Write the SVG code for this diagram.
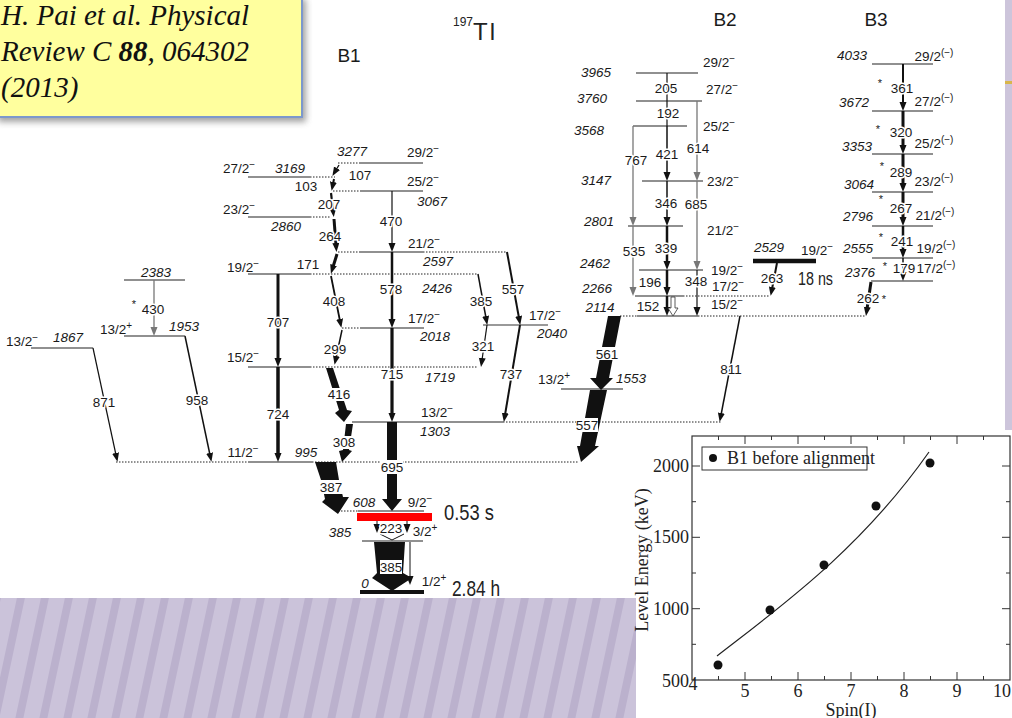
<svg xmlns="http://www.w3.org/2000/svg" width="1012" height="718" viewBox="0 0 1012 718">
<defs>
<style>
.t{font-family:"Liberation Sans",Arial,sans-serif;font-size:13.5px;fill:#1a1a1a;text-anchor:middle}
.e{font-style:italic}
.s{font-size:10px}
.st{font-size:11px}
.g{stroke:#fff;stroke-width:3;paint-order:stroke;stroke-linejoin:round}
.lv{stroke:#222;stroke-width:1.2;fill:none}
.dt{stroke:#222;stroke-width:1;stroke-dasharray:1.5 1.5;fill:none}
.tr{stroke:#111;fill:none;marker-end:url(#ah)}
.gr{stroke:#777;stroke-width:1.3;fill:none;marker-end:url(#ahg)}
.nb{stroke:#111;fill:none}
.band{fill:#111}
.wb{fill:#fff}
.pl{font-family:"Liberation Serif","Times New Roman",serif;font-size:18px;fill:#222}
.cit{font-family:"Liberation Serif","Times New Roman",serif;font-style:italic;font-size:29px;fill:#111}
</style>
<marker id="ah" markerUnits="userSpaceOnUse" markerWidth="10" markerHeight="8" refX="2" refY="3.5" orient="auto"><path d="M0,0 L9,3.5 L0,7 z" fill="#111"/></marker>
<marker id="ahg" markerUnits="userSpaceOnUse" markerWidth="10" markerHeight="8" refX="2" refY="3.5" orient="auto"><path d="M0,0 L9,3.5 L0,7 z" fill="#777"/></marker>
<pattern id="stripes" patternUnits="userSpaceOnUse" width="24" height="24" patternTransform="skewX(-12)">
<rect width="24" height="24" fill="#cbc3da"/><rect x="0" width="8" height="24" fill="#bbb1cd"/>
</pattern>
<filter id="sh" x="-20%" y="-20%" width="140%" height="160%"><feGaussianBlur stdDeviation="3"/></filter>
</defs>
<rect width="1012" height="718" fill="#fff"/>
<rect x="0" y="598" width="636" height="120" fill="url(#stripes)"/>
<rect x="1005" y="0" width="7" height="430" fill="#cdc5db"/>
<rect x="1005" y="81" width="7" height="3" fill="#d8b64c"/>

<g id="citation">
<rect x="-6" y="-6" width="308" height="123" fill="#666" opacity="0.6" filter="url(#sh)" transform="translate(4,5)"/>
<rect x="-6" y="-6" width="308" height="123" fill="#ffff9e" stroke="#7c98cc" stroke-width="2"/>
<text class="cit" x="1" y="25">H. Pai et al. Physical</text>
<text class="cit" x="1" y="61">Review C <tspan font-weight="bold">88</tspan>, 064302</text>
<text class="cit" x="1" y="97">(2013)</text>
</g>

<g id="titles">
<text x="453" y="26" font-family="Liberation Sans,Arial,sans-serif" font-size="12" fill="#222">197</text>
<text x="473" y="40" font-family="Liberation Sans,Arial,sans-serif" font-size="24" letter-spacing="2" fill="#222">Tl</text>
<text class="t" x="349" y="62" style="font-size:19px">B1</text>
<text class="t" x="725" y="26" style="font-size:19px">B2</text>
<text class="t" x="876" y="26" style="font-size:19px">B3</text>
</g>

<!-- B1 levels -->
<g id="lvl-3277"><path class="dt" d="M338,163H360"/><path class="lv" d="M360,163H423"/>
<text class="t e" x="352" y="156">3277</text><text class="t" x="423" y="157">29/2<tspan class="s" dy="-5">−</tspan></text></g>
<g id="lvl-3169"><path class="lv" d="M248,177H310"/><path class="dt" d="M310,177H335"/>
<text class="t" x="239" y="173">27/2<tspan class="s" dy="-5">−</tspan></text><text class="t e" x="290" y="173">3169</text></g>
<g id="lvl-3067"><path class="dt" d="M333,191H360"/><path class="lv" d="M360,191H423"/>
<text class="t" x="423" y="186">25/2<tspan class="s" dy="-5">−</tspan></text><text class="t e" x="432" y="206">3067</text></g>
<g id="lvl-2860"><path class="lv" d="M248,217H310"/><path class="dt" d="M310,217H330"/>
<text class="t" x="239" y="214">23/2<tspan class="s" dy="-5">−</tspan></text><text class="t e" x="286" y="231">2860</text></g>
<g id="lvl-2597"><path class="dt" d="M338,252H360"/><path class="lv" d="M360,252H423"/><path class="dt" d="M423,252H507"/>
<text class="t" x="424" y="248">21/2<tspan class="s" dy="-5">−</tspan></text><text class="t e" x="438" y="266">2597</text></g>
<g id="lvl-2426"><path class="lv" d="M248,274H310"/><path class="dt" d="M310,274H478"/>
<text class="t" x="243" y="272">19/2<tspan class="s" dy="-5">−</tspan></text><text class="t e" x="437" y="293">2426</text></g>
<g id="lvl-2018"><path class="dt" d="M342,328H360"/><path class="lv" d="M360,328H424"/>
<text class="t" x="424" y="323">17/2<tspan class="s" dy="-5">−</tspan></text><text class="t e" x="435" y="341">2018</text></g>
<g id="lvl-2040"><path d="M483,325H548" stroke="#777" stroke-width="1.4"/>
<text class="t" x="545" y="320">17/2<tspan class="s" dy="-5">−</tspan></text><text class="t e" x="552" y="338">2040</text></g>
<g id="lvl-1719"><path class="lv" d="M248,367H310"/><path class="dt" d="M310,367H478"/>
<text class="t" x="243" y="362">15/2<tspan class="s" dy="-5">−</tspan></text><text class="t e" x="440" y="382">1719</text></g>
<g id="lvl-1303"><path class="lv" d="M352,422H503"/><path class="dt" d="M503,422H722"/>
<text class="t" x="437" y="417">13/2<tspan class="s" dy="-5">−</tspan></text><text class="t e" x="435" y="436">1303</text></g>
<g id="lvl-995"><path class="dt" d="M116,462H248"/><path class="lv" d="M248,462H312"/><path class="dt" d="M312,462H578"/>
<text class="t" x="243" y="457">11/2<tspan class="s" dy="-5">−</tspan></text><text class="t e" x="306" y="457">995</text></g>
<g id="lvl-608"><path class="dt" d="M338,511H358"/><path class="lv" d="M358,511H424"/>
<rect x="357" y="513" width="75" height="8" fill="#ff0000"/>
<text class="t e" x="364" y="507">608</text><text class="t" x="420" y="507">9/2<tspan class="s" dy="-5">−</tspan></text>
<text x="444" y="520" font-family="Liberation Sans,Arial,sans-serif" font-size="22" fill="#222" textLength="50" lengthAdjust="spacingAndGlyphs">0.53 s</text></g>
<g id="lvl-385"><path class="lv" d="M362,541H423"/>
<text class="t e" x="340" y="537">385</text><text class="t" x="425" y="536">3/2<tspan class="s" dy="-5">+</tspan></text></g>
<g id="lvl-0"><path d="M360,592H424" stroke="#111" stroke-width="4"/>
<text class="t e" x="365" y="588">0</text><text class="t" x="434" y="586">1/2<tspan class="s" dy="-5">+</tspan></text>
<text x="452" y="596" font-family="Liberation Sans,Arial,sans-serif" font-size="22" fill="#222" textLength="48" lengthAdjust="spacingAndGlyphs">2.84 h</text></g>
<g id="lvl-1867"><path class="lv" d="M31,348H93"/>
<text class="t" x="22" y="346">13/2<tspan class="s" dy="-5">−</tspan></text><text class="t e" x="68" y="342">1867</text></g>
<g id="lvl-1953"><path class="lv" d="M124,336H185"/>
<text class="t" x="116" y="334">13/2<tspan class="s" dy="-5">+</tspan></text><text class="t e" x="184" y="331">1953</text></g>
<g id="lvl-2383"><path class="lv" d="M124,280H185"/><text class="t e" x="156" y="277">2383</text></g>
<g id="lvl-1553"><path class="lv" d="M561,389H623"/>
<text class="t" x="554" y="384">13/2<tspan class="s" dy="-5">+</tspan></text><text class="t e" x="631" y="383">1553</text></g>

<!-- B2 levels -->
<g id="lvl-3965"><path class="lv" d="M636,73H698"/><text class="t e" x="596" y="77">3965</text><text class="t" x="719" y="67">29/2<tspan class="s" dy="-5">−</tspan></text></g>
<g id="lvl-3760"><path class="lv" d="M636,101H702"/><text class="t e" x="592" y="103">3760</text><text class="t" x="722" y="94">27/2<tspan class="s" dy="-5">−</tspan></text></g>
<g id="lvl-3568"><path class="lv" d="M633,126H687"/><text class="t e" x="589" y="135">3568</text><text class="t" x="719" y="131">25/2<tspan class="s" dy="-5">−</tspan></text></g>
<g id="lvl-3147"><path class="lv" d="M642,181H703"/><text class="t e" x="596" y="185">3147</text><text class="t" x="723" y="186">23/2<tspan class="s" dy="-5">−</tspan></text></g>
<g id="lvl-2801"><path class="lv" d="M628,226H683"/><text class="t e" x="599" y="226">2801</text><text class="t" x="723" y="235">21/2<tspan class="s" dy="-5">−</tspan></text></g>
<g id="lvl-2462"><path class="lv" d="M639,270H703"/><text class="t e" x="595" y="268">2462</text><text class="t" x="727" y="275">19/2<tspan class="s" dy="-5">−</tspan></text></g>
<g id="lvl-2266"><path class="lv" d="M635,296H683"/><path class="dt" d="M683,296H770"/><text class="t e" x="597" y="293">2266</text><text class="t" x="728" y="291">17/2<tspan class="s" dy="-5">−</tspan></text></g>
<g id="lvl-2114"><path class="dt" d="M620,316H637"/><path class="lv" d="M637,316H698"/><path class="dt" d="M698,316H866"/><text class="t e" x="600" y="312">2114</text><text class="t" x="727" y="309">15/2<tspan class="s" dy="-5">−</tspan></text></g>
<g id="lvl-2529"><path d="M753,261H816" stroke="#111" stroke-width="4.5"/><text class="t e" x="769" y="252">2529</text><text class="t" x="817" y="255">19/2<tspan class="s" dy="-5">−</tspan></text>
<text x="798" y="285" font-family="Liberation Sans,Arial,sans-serif" font-size="18" fill="#222" textLength="35" lengthAdjust="spacingAndGlyphs">18 ns</text></g>

<!-- B3 levels -->
<g id="lvl-4033"><path class="lv" d="M872,64H933"/><text class="t e" x="852" y="60">4033</text><text class="t" x="934" y="61">29/2<tspan class="s" dy="-5">(−)</tspan></text></g>
<g id="lvl-3672"><path class="lv" d="M872,111H933"/><text class="t e" x="854" y="107">3672</text><text class="t" x="934" y="106">27/2<tspan class="s" dy="-5">(−)</tspan></text></g>
<g id="lvl-3353"><path class="lv" d="M872,154H933"/><text class="t e" x="857" y="151">3353</text><text class="t" x="934" y="148">25/2<tspan class="s" dy="-5">(−)</tspan></text></g>
<g id="lvl-3064"><path class="lv" d="M872,192H933"/><text class="t e" x="859" y="189">3064</text><text class="t" x="934" y="186">23/2<tspan class="s" dy="-5">(−)</tspan></text></g>
<g id="lvl-2796"><path class="lv" d="M872,226H933"/><text class="t e" x="858" y="221">2796</text><text class="t" x="935" y="220">21/2<tspan class="s" dy="-5">(−)</tspan></text></g>
<g id="lvl-2555"><path class="lv" d="M872,258H933"/><text class="t e" x="858" y="253">2555</text><text class="t" x="936" y="253">19/2<tspan class="s" dy="-5">(−)</tspan></text></g>
<g id="lvl-2376"><path class="lv" d="M871,281H933"/><text class="t e" x="860" y="277">2376</text><text class="t" x="936" y="273">17/2<tspan class="s" dy="-5">(−)</tspan></text></g>

<g id="connectors">
<!-- B1 cascade -->
<path class="tr" d="M339,165L336,170" stroke-width="1.3"/>
<path class="tr" d="M334,179L333,184" stroke-width="2"/>
<path class="tr" d="M331,193L333,210" stroke-width="2.2"/>
<path class="tr" d="M334,219L336,245" stroke-width="3"/>
<path class="tr" d="M337,254L333,267" stroke-width="3"/>
<path class="tr" d="M331,276L340,321" stroke-width="1.8"/>
<path class="tr" d="M342,330L336,358" stroke-width="1.5"/>
<polygon class="band" points="326,368 333,368 347,410 352,411 344,422 335,413 339,410"/>
<polygon class="band" points="346,424 353,424 349,450 352,451 342,462 339,451 343,450"/>
<polygon class="band" points="315,462 336,462 339,480 343,497 349,497 338,514 322,502 325,499 321,480"/>
<path class="tr" d="M392,191V245" stroke-width="1.2" stroke="#444"/>
<path class="tr" d="M392,252V321" stroke-width="2.5"/>
<path class="tr" d="M392,328V415" stroke-width="3.2"/>
<polygon class="band" points="387,422 397,422 397,499 402,499 392,511 382,499 387,499"/>
<path class="tr" d="M278,274V360" stroke-width="3"/>
<path class="tr" d="M278,367V455" stroke-width="3.5"/>
<path class="tr" d="M507,252L519,318" stroke-width="2"/>
<path class="tr" d="M478,274L486,318" stroke-width="1.5"/>
<path class="tr" d="M487,325L482,360" stroke-width="1.2"/>
<path class="tr" d="M520,325L505,415" stroke-width="2"/>
<path class="tr" d="M93,348L116,455" stroke-width="1.2"/>
<path class="tr" d="M185,336L210,455" stroke-width="1.5"/>
<path class="gr" d="M154,280V329"/>
<path class="tr" d="M377,521V526" stroke-width="1"/>
<path class="tr" d="M407,521V526" stroke-width="1"/>
<path class="nb" d="M380,534L392,540L404,534" stroke-width="1"/>
<polygon class="band" points="374,542 405,542 403,573 412,578 392,591 372,578 377,573"/>
<path class="tr" d="M410,542V578" stroke-width="1" stroke="#555"/>
<!-- B2 -->
<path class="nb" d="M667,73V101" stroke-width="1.2"/>
<path class="nb" d="M667,101V126" stroke-width="1.2"/>
<path class="tr" d="M667,126V174" stroke-width="1.5"/>
<path class="gr" d="M697,101V174"/>
<path class="gr" d="M633,126V219"/>
<path class="tr" d="M667,181V219" stroke-width="1.5"/>
<path class="gr" d="M697,181V263"/>
<path class="tr" d="M667,226V263" stroke-width="2.5"/>
<path class="gr" d="M633,226V289"/>
<path class="tr" d="M667,270V289" stroke-width="2.5"/>
<path class="tr" d="M697,270V309" stroke-width="1.2"/>
<path class="tr" d="M667,296V309" stroke-width="2.5"/>
<path d="M671,297H675V308H678L673,316L668,308H671Z" fill="#fff" stroke="#333" stroke-width="0.8"/>
<polygon class="band" points="608,316 621,316 609,378 613,378 601,390 590,378 596,378"/>
<polygon class="band" points="590,390 607,390 595,446 599,446 581,462 577,446 580,446"/>
<path class="tr" d="M740,316L721,415" stroke-width="1.5"/>
<path class="tr" d="M777,263L772,289" stroke-width="2"/>
<path class="tr" d="M871,282L867,309" stroke-width="3"/>
<!-- B3 -->
<path class="tr" d="M903,64V104" stroke-width="2"/>
<path class="tr" d="M903,111V147" stroke-width="3"/>
<path class="tr" d="M903,154V185" stroke-width="3"/>
<path class="tr" d="M903,192V219" stroke-width="3"/>
<path class="tr" d="M903,226V251" stroke-width="2.5"/>
<path class="tr" d="M903,258V274" stroke-width="1.5"/>
</g>

<g id="gamma-labels">
<rect class="wb" x="381" y="460" width="22" height="14"/>
<rect class="wb" x="320" y="480" width="23" height="14"/>
<rect class="wb" x="329" y="388" width="21" height="13"/>
<rect class="wb" x="333" y="436" width="22" height="13"/>
<rect class="wb" x="380" y="560" width="22" height="14"/>
<rect class="wb" x="597" y="347" width="21" height="13"/>
<rect class="wb" x="576" y="418" width="22" height="14"/>
<text class="t g" x="360" y="180">107</text>
<text class="t g" x="306" y="191">103</text>
<text class="t g" x="329" y="209">207</text>
<text class="t g" x="391" y="226">470</text>
<text class="t g" x="330" y="241">264</text>
<text class="t g" x="308" y="269">171</text>
<text class="t g" x="391" y="294">578</text>
<text class="t g" x="334" y="306">408</text>
<text class="t g" x="335" y="354">299</text>
<text class="t g" x="392" y="379">715</text>
<text class="t" x="339" y="399">416</text>
<text class="t" x="344" y="447">308</text>
<text class="t" x="392" y="472">695</text>
<text class="t" x="331" y="492">387</text>
<text class="t g" x="278" y="327">707</text>
<text class="t g" x="278" y="419">724</text>
<text class="t g" x="513" y="294">557</text>
<text class="t g" x="481" y="306">385</text>
<text class="t g" x="483" y="351">321</text>
<text class="t g" x="511" y="379">737</text>
<text class="t g" x="104" y="407">871</text>
<text class="t g" x="197" y="405">958</text>
<text class="t st" x="134" y="308">*</text>
<text class="t g" x="153" y="314">430</text>
<text class="t g" x="391" y="533">223</text>
<text class="t" x="391" y="572">385</text>
<text class="t g" x="666" y="93">205</text>
<text class="t g" x="668" y="118">192</text>
<text class="t g" x="636" y="165">767</text>
<text class="t g" x="667" y="159">421</text>
<text class="t g" x="698" y="153">614</text>
<text class="t g" x="666" y="208">346</text>
<text class="t g" x="696" y="209">685</text>
<text class="t g" x="634" y="256">535</text>
<text class="t g" x="666" y="253">339</text>
<text class="t g" x="650" y="287">196</text>
<text class="t g" x="696" y="286">348</text>
<text class="t g" x="648" y="311">152</text>
<text class="t" x="607" y="359">561</text>
<text class="t" x="587" y="430">557</text>
<text class="t g" x="731" y="374">811</text>
<text class="t g" x="772" y="283">263</text>
<text class="t st" x="880" y="87">*</text>
<text class="t g" x="902" y="93">361</text>
<text class="t st" x="878" y="133">*</text>
<text class="t g" x="901" y="137">320</text>
<text class="t st" x="882" y="170">*</text>
<text class="t g" x="901" y="177">289</text>
<text class="t st" x="881" y="203">*</text>
<text class="t g" x="901" y="213">267</text>
<text class="t st" x="881" y="241">*</text>
<text class="t g" x="902" y="246">241</text>
<text class="t st" x="885" y="270">*</text>
<text class="t g" x="904" y="273">179</text>
<text class="t g" x="868" y="303">262</text>
<text class="t st" x="884" y="303">*</text>
</g>

<g id="plot">
<rect x="692" y="436" width="318" height="244" fill="#fff" stroke="#333" stroke-width="1.2"/>
<path fill="none" stroke="#333" stroke-width="1" d="M745,680v-8M798,680v-8M851,680v-8M904,680v-8M957,680v-8M745,436v8M798,436v8M851,436v8M904,436v8M957,436v8M718.5,680v-4M771.5,680v-4M824.5,680v-4M877.5,680v-4M930.5,680v-4M983.5,680v-4M718.5,436v4M771.5,436v4M824.5,436v4M877.5,436v4M930.5,436v4M983.5,436v4M692,608.7h8M692,537.3h8M692,466h8M1010,608.7h-8M1010,537.3h-8M1010,466h-8M692,644.3h4M692,573h4M692,501.7h4M1010,644.3h-4M1010,573h-4M1010,501.7h-4"/>
<text class="pl" x="689" y="472" text-anchor="end">2000</text>
<text class="pl" x="689" y="543" text-anchor="end">1500</text>
<text class="pl" x="689" y="615" text-anchor="end">1000</text>
<text class="pl" x="689" y="687" text-anchor="end">500</text>
<text class="pl" x="693" y="690" text-anchor="middle">4</text>
<text class="pl" x="745" y="697" text-anchor="middle">5</text>
<text class="pl" x="798" y="697" text-anchor="middle">6</text>
<text class="pl" x="851" y="697" text-anchor="middle">7</text>
<text class="pl" x="904" y="697" text-anchor="middle">8</text>
<text class="pl" x="957" y="697" text-anchor="middle">9</text>
<text class="pl" x="1011" y="697" text-anchor="end">10</text>
<text class="pl" x="851" y="716" text-anchor="middle">Spin(I)</text>
<text class="pl" x="648" y="560" text-anchor="middle" transform="rotate(-90 648 560)">Level Energy (keV)</text>
<path d="M717,656C780,607 860,550 929,452" fill="none" stroke="#222" stroke-width="1.2"/>
<g fill="#111"><circle cx="718" cy="665" r="4.5"/><circle cx="770" cy="610" r="4.5"/><circle cx="824" cy="565" r="4.5"/><circle cx="876" cy="506" r="4.5"/><circle cx="930" cy="463" r="4.5"/></g>
<rect x="702" y="447" width="165" height="23" fill="#fff" stroke="#333" stroke-width="1"/>
<circle cx="713" cy="458" r="4" fill="#111"/>
<text class="pl" x="727" y="464">B1 before alignment</text>
</g>
</svg>
